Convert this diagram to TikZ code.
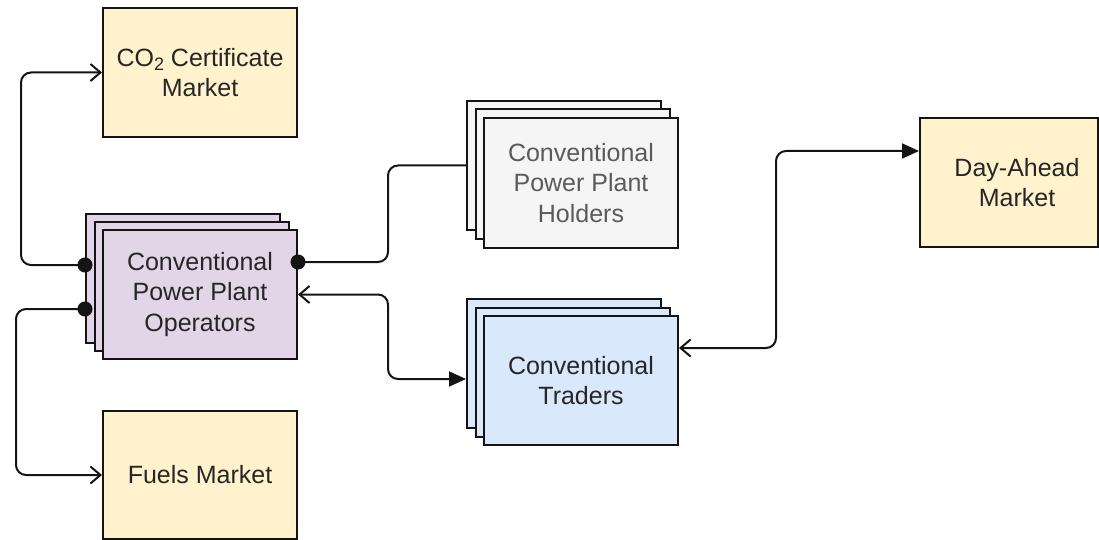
\documentclass[tikz,border=0pt]{standalone}
\usepackage{fontspec}
\setmainfont{Liberation Sans}
\usetikzlibrary{arrows.meta}
\definecolor{yel}{HTML}{FFF2CC}
\definecolor{pur}{HTML}{E1D5E7}
\definecolor{gry}{HTML}{F5F5F5}
\definecolor{blu}{HTML}{DAE8FC}
\definecolor{edge}{HTML}{141414}
\definecolor{txt}{HTML}{262626}
\definecolor{txtg}{HTML}{5A5A5A}
\tikzset{
  box/.style={draw=edge, line width=2pt, minimum width=194pt, minimum height=129pt,
    align=center, inner sep=0pt, text=txt, font=\fontsize{25}{30.5}\selectfont},
  conn/.style={draw=edge, line width=2pt, rounded corners=10pt},
  openhead/.tip={Straight Barb[length=10pt, width=17pt, line width=2pt]},
  filledhead/.tip={Triangle[length=17pt, width=15pt]},
  dothead/.tip={Circle[length=15pt]},
}
\begin{document}
\begin{tikzpicture}[x=1pt, y=-1pt]
\useasboundingbox (0,0) rectangle (1099,540);
% markets
\node[box, fill=yel] (co2) at (200,72.5) {CO\raisebox{-0.35ex}{\fontsize{18}{18}\selectfont 2} Certificate\\Market};
\node[box, fill=yel, minimum height=128pt] (fuels) at (200,475) {Fuels Market};
\node[box, fill=yel, minimum width=178pt,
      label={[align=center, text=txt, font=\fontsize{25}{30.5}\selectfont, xshift=8pt]center:Day-Ahead\\Market}]
      (dam) at (1009,182.5) {};
% operators
\node[box, fill=pur] (op3) at (183,278) {};
\node[box, fill=pur] (op2) at (191.5,286.5) {};
\node[box, fill=pur] (op) at (200,294.5) {Conventional\\Power Plant\\Operators};
% holders
\node[box, fill=gry] (hold3) at (564,165.5) {};
\node[box, fill=gry] (hold2) at (572.5,174) {};
\node[box, fill=gry, text=txtg] (hold) at (581,183) {Conventional\\Power Plant\\Holders};
% traders
\node[box, fill=blu] (trad3) at (564,363.5) {};
\node[box, fill=blu] (trad2) at (572.5,372) {};
\node[box, fill=blu] (trad) at (581,380.5) {Conventional\\Traders};
% connectors
\draw[conn, {dothead}-{openhead}, shorten <=-7.5pt]
  ([yshift=13pt]op3.west) -- ++(-64,0) |- (co2.west);
\draw[conn, {dothead}-{openhead}, shorten <=-7.5pt]
  ([yshift=-31pt]op3.west) -- ++(-69,0) |- (fuels.west);
\draw[conn, {dothead}-, shorten <=-7.5pt]
  ([yshift=32.5pt]op.east) -- ++(90,0) |- (hold3.west);
\draw[conn, {openhead}-{filledhead}]
  (op.east) -- ++(90,0) |- ([yshift=-15.5pt]trad3.west);
\draw[conn, {openhead}-{filledhead}]
  ([yshift=32.5pt]trad.east) -- ++(97,0) |- ([yshift=31.5pt]dam.west);
\end{tikzpicture}
\end{document}
